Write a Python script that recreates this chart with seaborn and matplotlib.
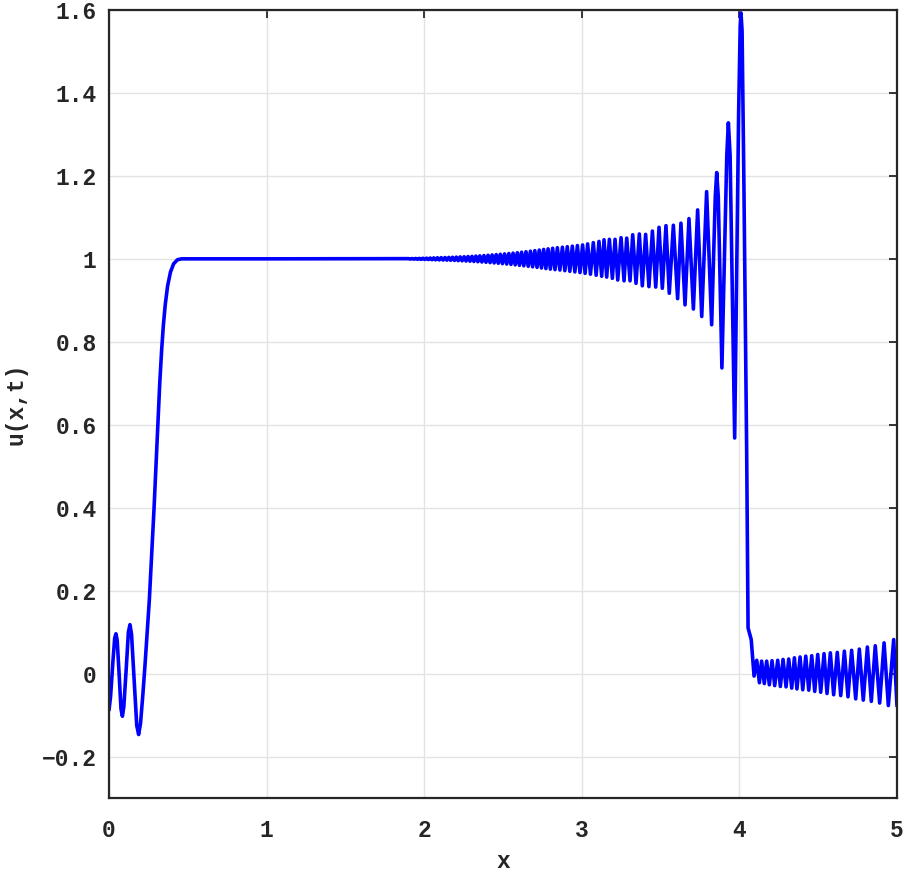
import matplotlib
matplotlib.use("Agg")
import matplotlib.pyplot as plt
import seaborn as sns
import numpy as np
import pandas as pd

# ---- data ----
# left part: initial oscillations and steep rise to the plateau
left_x = [0.000, 0.010, 0.025, 0.036, 0.044, 0.052, 0.064, 0.076, 0.085, 0.094,
          0.109, 0.123, 0.133, 0.143, 0.160, 0.176, 0.188, 0.200, 0.215, 0.228,
          0.256, 0.286, 0.310, 0.322, 0.334, 0.345, 0.357, 0.372, 0.390, 0.410,
          0.435, 0.461, 1.000]
left_y = [-0.088, -0.055, 0.030, 0.085, 0.096, 0.080, 0.000, -0.085, -0.103, -0.080,
          0.010, 0.100, 0.118, 0.095, -0.020, -0.125, -0.147, -0.120, -0.050, 0.018,
          0.178, 0.400, 0.600, 0.700, 0.780, 0.840, 0.890, 0.935, 0.968, 0.988,
          0.998, 1.000, 1.000]

# dispersive wave train: crests
peaks_x = [1.900, 1.923, 1.946, 1.969, 1.992, 2.015, 2.038, 2.061, 2.084, 2.108,
           2.132, 2.156, 2.180, 2.204, 2.228, 2.253, 2.278, 2.303, 2.328, 2.353,
           2.379, 2.405, 2.431, 2.457, 2.483, 2.510, 2.537, 2.564, 2.591, 2.618,
           2.646, 2.674, 2.702, 2.730, 2.758, 2.786, 2.815, 2.845, 2.877, 2.908,
           2.940, 2.972, 3.005, 3.037, 3.073, 3.109, 3.141, 3.175, 3.211, 3.249,
           3.285, 3.323, 3.365, 3.405, 3.448, 3.490, 3.534, 3.581, 3.629, 3.680,
           3.735, 3.792, 3.856, 3.930, 4.010]
peaks_y = [1.0005, 1.0007, 1.0009, 1.0011, 1.0014, 1.0017, 1.0020, 1.0023, 1.0026, 1.0029,
           1.0032, 1.0035, 1.0038, 1.0042, 1.0046, 1.0050, 1.0055, 1.0060, 1.0066, 1.0072,
           1.0079, 1.0086, 1.0094, 1.0102, 1.0110, 1.0119, 1.0128, 1.0138, 1.0148, 1.0160,
           1.0172, 1.0185, 1.0198, 1.0212, 1.0226, 1.0240, 1.0255, 1.0268, 1.0280, 1.0292,
           1.0305, 1.0320, 1.0335, 1.0360, 1.0390, 1.0420, 1.046, 1.047, 1.047, 1.051,
           1.050, 1.058, 1.060, 1.059, 1.067, 1.076, 1.080, 1.081, 1.086, 1.097,
           1.118, 1.162, 1.208, 1.328, 1.593]

# dispersive wave train: troughs
troughs_x = [1.9115, 1.9345, 1.9575, 1.9805, 2.0035, 2.0265, 2.0495, 2.0725, 2.096, 2.120,
             2.144, 2.168, 2.192, 2.216, 2.2405, 2.2655, 2.2905, 2.3155, 2.3405, 2.366,
             2.392, 2.418, 2.444, 2.470, 2.4965, 2.5235, 2.5505, 2.5775, 2.6045, 2.632,
             2.660, 2.688, 2.716, 2.744, 2.772, 2.8005, 2.830, 2.861, 2.8925, 2.924,
             2.956, 2.9885, 3.021, 3.055, 3.091, 3.126, 3.158, 3.194, 3.228, 3.268,
             3.306, 3.344, 3.384, 3.426, 3.469, 3.511, 3.555, 3.608, 3.655, 3.708,
             3.761, 3.824, 3.889, 3.970]
troughs_y = [0.9995, 0.9993, 0.9991, 0.9989, 0.9986, 0.9983, 0.9980, 0.9977, 0.9974, 0.9971,
             0.9968, 0.9965, 0.9961, 0.9957, 0.9953, 0.9948, 0.9943, 0.9937, 0.9931, 0.9924,
             0.9917, 0.9909, 0.9901, 0.9893, 0.9884, 0.9875, 0.9865, 0.9855, 0.9844, 0.9832,
             0.9820, 0.9807, 0.9794, 0.9780, 0.9766, 0.9752, 0.9740, 0.9730, 0.9715, 0.9700,
             0.9685, 0.9670, 0.9650, 0.9630, 0.9605, 0.958, 0.956, 0.953, 0.949, 0.947,
             0.947, 0.941, 0.935, 0.933, 0.932, 0.929, 0.917, 0.904, 0.889, 0.879,
             0.861, 0.841, 0.737, 0.568]

# shoulders of the largest crests, flanks of the leading crest and the drop
front_x = [3.847, 3.866, 3.920, 3.941, 3.995, 4.005, 4.017, 4.028, 4.046, 4.055, 4.075]
front_y = [1.150, 1.150, 1.250, 1.250, 1.350, 1.560, 1.550, 1.200, 0.540, 0.110, 0.082]

# small-amplitude tail behind the front
tail_peaks_x = [4.110, 4.141, 4.173, 4.207, 4.243, 4.277, 4.313, 4.349, 4.385, 4.421,
                4.459, 4.497, 4.537, 4.577, 4.621, 4.666, 4.712, 4.761, 4.812, 4.862,
                4.918, 4.979]
tail_peaks_y = [0.032, 0.030, 0.030, 0.031, 0.032, 0.034, 0.035, 0.038, 0.040, 0.042,
                0.043, 0.046, 0.048, 0.050, 0.051, 0.054, 0.056, 0.059, 0.064, 0.067,
                0.074, 0.082]
tail_troughs_x = [4.093, 4.127, 4.158, 4.190, 4.224, 4.260, 4.296, 4.332, 4.365, 4.402,
                  4.440, 4.478, 4.516, 4.556, 4.598, 4.643, 4.689, 4.738, 4.786, 4.837,
                  4.890, 4.945, 5.000]
tail_troughs_y = [-0.006, -0.022, -0.024, -0.027, -0.029, -0.031, -0.032, -0.035, -0.037, -0.039,
                  -0.040, -0.043, -0.045, -0.048, -0.051, -0.053, -0.056, -0.061, -0.064, -0.067,
                  -0.071, -0.077, -0.078]

x_ticks = [0, 1, 2, 3, 4, 5]
x_tick_labels = ["0", "1", "2", "3", "4", "5"]
y_ticks = [-0.2, 0, 0.2, 0.4, 0.6, 0.8, 1.0, 1.2, 1.4, 1.6]
y_tick_labels = ["\u22120.2", "0", "0.2", "0.4", "0.6", "0.8", "1", "1.2", "1.4", "1.6"]

# ---- assemble ----
df = pd.DataFrame({
    "x": left_x + peaks_x + troughs_x + front_x + tail_peaks_x + tail_troughs_x,
    "u": left_y + peaks_y + troughs_y + front_y + tail_peaks_y + tail_troughs_y,
}).sort_values("x").drop_duplicates("x").reset_index(drop=True)

sns.set_theme(style="white")
plt.rcParams["font.family"] = ["Liberation Mono", "DejaVu Sans Mono"]
plt.rcParams["font.weight"] = "bold"

fig = plt.figure(figsize=(9.05, 8.77), dpi=100)
ax = fig.add_axes([109 / 905, 79 / 877, 788 / 905, 788 / 877])
ax.set_facecolor("white")

sns.lineplot(data=df, x="x", y="u", ax=ax, color="#0000ff", linewidth=2.6,
             estimator=None, sort=False, solid_joinstyle="round",
             solid_capstyle="round")

ax.set_xlim(0, 5)
ax.set_ylim(-0.3, 1.6)
ax.set_xticks(x_ticks)
ax.set_xticklabels(x_tick_labels)
ax.set_yticks(y_ticks)
ax.set_yticklabels(y_tick_labels)

ax.grid(True, color="#e3e3e3", linewidth=1.0)
ax.set_axisbelow(True)
for s in ax.spines.values():
    s.set_visible(True)
    s.set_color("#262626")
    s.set_linewidth(1.6)

ax.tick_params(axis="both", which="both", direction="in", length=6, width=1.3,
               colors="#262626", top=True, right=True, labelsize=16.5)
ax.tick_params(axis="y", pad=9)
ax.tick_params(axis="x", pad=15)
for lab in ax.get_xticklabels() + ax.get_yticklabels():
    lab.set_fontweight("bold")

ax.set_xlabel("x", fontsize=16.5, fontweight="bold", color="#262626", labelpad=6)
ax.set_ylabel("u(x,t)", fontsize=16.5, fontweight="bold", color="#262626", labelpad=10)

fig.savefig("out.png", dpi=100, facecolor="white")
